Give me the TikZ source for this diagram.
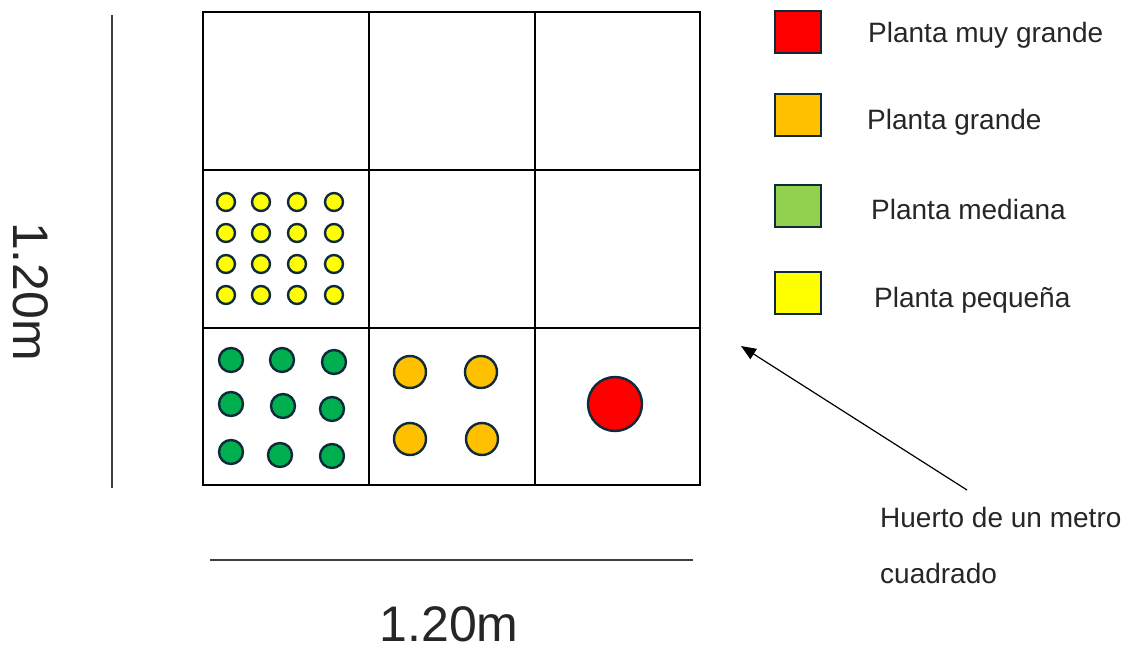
\documentclass[tikz,border=0pt]{standalone}
\usepackage{fontspec}
\setmainfont{Liberation Sans}
\usetikzlibrary{arrows.meta}
\definecolor{navy}{HTML}{0E2A3B}
\definecolor{cyel}{HTML}{FFFF00}
\definecolor{cgreen}{HTML}{00B050}
\definecolor{clgreen}{HTML}{92D050}
\definecolor{corange}{HTML}{FFC000}
\definecolor{cred}{HTML}{FF0000}
\definecolor{txt}{HTML}{262626}
\definecolor{rule}{HTML}{3F3F3F}
\tikzset{
  cell/.style={draw=black, line width=2pt, inner sep=0, outer sep=0},
  plant/.style={circle, draw=navy, line width=2.4pt, inner sep=0},
  small/.style={plant, fill=cyel, minimum size=18pt},
  medium/.style={plant, fill=cgreen, minimum size=24pt},
  big/.style={plant, fill=corange, minimum size=32pt},
  huge/.style={plant, fill=cred, minimum size=54pt},
  legbox/.style={draw=navy, line width=2pt, minimum width=46pt, minimum height=42pt, inner sep=0},
  lab/.style={text=txt, inner sep=0, font=\fontsize{28pt}{56pt}\selectfont},
  dim/.style={text=txt, inner sep=0, font=\fontsize{50pt}{60pt}\selectfont},
  dimline/.style={draw=rule, line width=2.2pt}
}
\begin{document}
\begin{tikzpicture}[x=1pt,y=-1pt]
\useasboundingbox (0,0) rectangle (1138,652);
% grid cells
\foreach \c/\x/\w in {0/286/166,1/452/166,2/617.5/165}{
  \foreach \r/\y/\h in {0/91/158,1/249/158,2/406.5/157}{
    \node[cell, minimum width=\w pt, minimum height=\h pt] (cell\r\c) at (\x,\y) {};
  }
}
% small plants
\foreach \i/\x in {1/226,2/261,3/297,4/334}{
  \foreach \j/\y in {1/202,2/233,3/264,4/295}{
    \node[small] (s\j\i) at (\x,\y) {};
  }
}
% medium plants
\node[medium] (m11) at (231,360) {};
\node[medium] (m12) at (282,360) {};
\node[medium] (m13) at (334,362) {};
\node[medium] (m21) at (231,404) {};
\node[medium] (m22) at (283,406) {};
\node[medium] (m23) at (332,409) {};
\node[medium] (m31) at (231,452) {};
\node[medium] (m32) at (280,455) {};
\node[medium] (m33) at (332,456) {};
% big plants
\node[big] (b11) at (410,372) {};
\node[big] (b12) at (481,372) {};
\node[big] (b21) at (410,439) {};
\node[big] (b22) at (482,439) {};
% huge plant
\node[huge] (h1) at (615,404) {};
% legend
\node[legbox, fill=cred] (k1) at (798,32) {};
\node[legbox, fill=corange] (k2) at (798,115) {};
\node[legbox, fill=clgreen] (k3) at (798,206) {};
\node[legbox, fill=cyel] (k4) at (798,293) {};
\node[lab, anchor=base west] (t1) at (868,43) {Planta muy grande};
\node[lab, anchor=base west] (t2) at (867,130) {Planta grande};
\node[lab, anchor=base west] (t3) at (871,220) {Planta mediana};
\node[lab, anchor=base west] (t4) at (874,308) {Planta pequeña};
% annotation
\node[lab, anchor=base west, align=left] (note) at (880,583) {Huerto de un metro\\cuadrado};
\coordinate (tail) at (967,490);
\coordinate (tip) at (741,346);
\draw[line width=1.2pt, -{Triangle[length=15pt,width=12pt]}] (tail) -- (tip);
% dimensions
\coordinate (v1) at (112,15);
\coordinate (v2) at (112,488);
\draw[dimline] (v1) -- (v2);
\coordinate (h1s) at (210,560);
\coordinate (h2s) at (693,560);
\draw[dimline] (h1s) -- (h2s);
\node[dim, anchor=base] (dimx) at (449,641) {1.20m};
\node[dim, anchor=base west, rotate=-90] (dimy) at (13,222) {1.20m};
\end{tikzpicture}
\end{document}
